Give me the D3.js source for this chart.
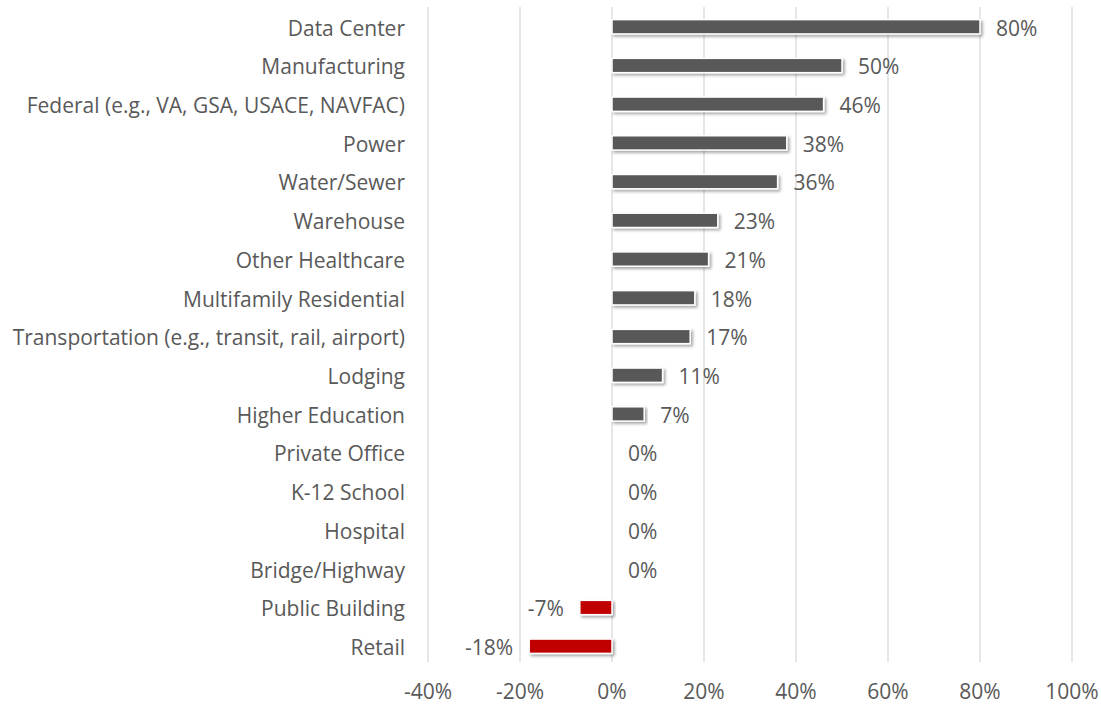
<!DOCTYPE html>
<html>
<head>
<meta charset="utf-8">
<script src="https://cdn.jsdelivr.net/npm/d3@7"></script>
<style>
  body { margin: 0; background: #fff; }
  svg text { font-family: "Open Sans", Lato, sans-serif; fill: #595959; }
</style>
</head>
<body>
<svg id="chart"></svg>
<script>
const categories = ["Data Center", "Manufacturing", "Federal (e.g., VA, GSA, USACE, NAVFAC)", "Power",
  "Water/Sewer", "Warehouse", "Other Healthcare", "Multifamily Residential",
  "Transportation (e.g., transit, rail, airport)", "Lodging", "Higher Education", "Private Office",
  "K-12 School", "Hospital", "Bridge/Highway", "Public Building", "Retail"];
const values = [80, 50, 46, 38, 36, 23, 21, 18, 17, 11, 7, 0, 0, 0, 0, -7, -18];
const xTicks = [-40, -20, 0, 20, 40, 60, 80, 100];

const width = 1101, height = 707;
const svg = d3.select("#chart").attr("width", width).attr("height", height);

// soft shadow under the bars
const defs = svg.append("defs");
defs.append("filter").attr("id", "shadow")
    .attr("x", "-10%").attr("y", "-50%").attr("width", "120%").attr("height", "200%")
  .append("feDropShadow")
    .attr("dx", 2).attr("dy", 2).attr("stdDeviation", 1.5)
    .attr("flood-color", "#000").attr("flood-opacity", 0.35);

const x = d3.scaleLinear().domain([-40, 100]).range([428, 1072]);
const y = d3.scaleBand().domain(categories).range([8, 665]).paddingInner(0.63).paddingOuter(0.3);

// gridlines
svg.append("g").selectAll("line")
  .data(xTicks)
  .enter().append("line")
    .attr("x1", d => x(d)).attr("x2", d => x(d))
    .attr("y1", 7).attr("y2", 662)
    .attr("stroke", "#d9d9d9").attr("stroke-width", 1.3);

// bars
svg.append("g").selectAll("rect")
  .data(values.map((v, i) => ({ cat: categories[i], v })).filter(d => d.v !== 0))
  .enter().append("rect")
    .attr("x", d => x(Math.min(0, d.v)))
    .attr("width", d => Math.abs(x(d.v) - x(0)))
    .attr("y", d => y(d.cat))
    .attr("height", y.bandwidth())
    .attr("fill", d => d.v < 0 ? "#c00000" : "#595959")
    .attr("stroke", "#fff").attr("stroke-width", 1.5)
    .attr("filter", "url(#shadow)");

const fs = 21;

// value labels
svg.append("g").selectAll("text")
  .data(values.map((v, i) => ({ cat: categories[i], v })))
  .enter().append("text")
    .attr("x", d => d.v < 0 ? x(d.v) - 16 : x(d.v) + 16)
    .attr("y", d => y(d.cat) + y.bandwidth() / 2 + 1.5)
    .attr("dy", "0.35em")
    .attr("text-anchor", d => d.v < 0 ? "end" : "start")
    .attr("font-size", fs)
    .text(d => d.v + "%");

// category labels
svg.append("g").selectAll("text")
  .data(categories)
  .enter().append("text")
    .attr("x", 405)
    .attr("y", d => y(d) + y.bandwidth() / 2 + 1.5)
    .attr("dy", "0.35em")
    .attr("text-anchor", "end")
    .attr("font-size", fs)
    .text(d => d);

// x axis tick labels
svg.append("g").selectAll("text")
  .data(xTicks)
  .enter().append("text")
    .attr("x", d => x(d))
    .attr("y", 692)
    .attr("dy", "0.35em")
    .attr("text-anchor", "middle")
    .attr("font-size", fs)
    .text(d => d + "%");
</script>
</body>
</html>
